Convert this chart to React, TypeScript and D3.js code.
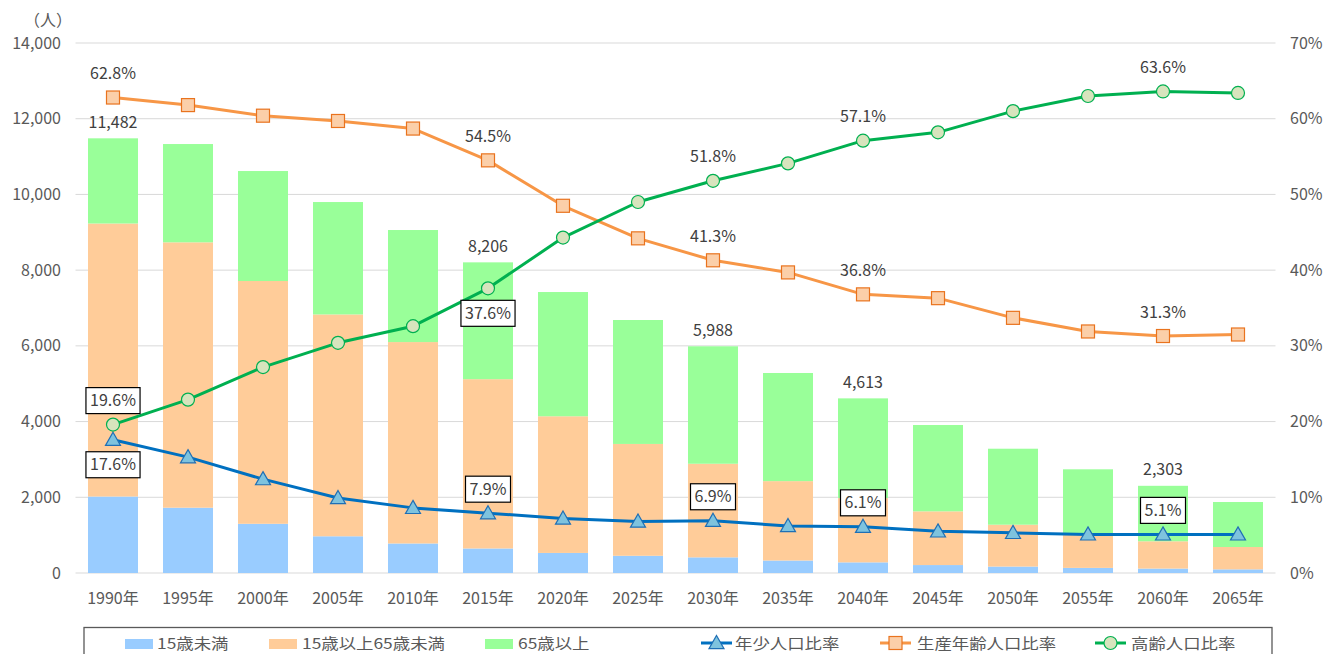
import React from "react";
import * as d3 from "d3";

const years = ["1990年","1995年","2000年","2005年","2010年","2015年","2020年","2025年","2030年","2035年","2040年","2045年","2050年","2055年","2060年","2065年"];
const under15 = [2020,1725,1300,970,780,648,530,455,413,330,281,210,170,135,117,96];
const age15to64 = [7212,7010,6413,5860,5320,4472,3610,2954,2473,2097,1698,1419,1106,900,721,591];
const over65 = [2250,2596,2905,2969,2960,3086,3282,3274,3102,2856,2634,2280,2007,1704,1465,1188];
const totals = [11482,11331,10618,9799,9060,8206,7422,6683,5988,5283,4613,3909,3283,2739,2303,1875];
const youngRatio = [17.6,15.3,12.4,9.9,8.6,7.9,7.2,6.8,6.9,6.2,6.1,5.5,5.3,5.1,5.1,5.1];
const workingRatio = [62.8,61.8,60.4,59.7,58.7,54.5,48.5,44.2,41.3,39.7,36.8,36.3,33.7,31.9,31.3,31.5];
const elderlyRatio = [19.6,22.9,27.2,30.4,32.6,37.6,44.3,49.0,51.8,54.1,57.1,58.2,61.0,63.0,63.6,63.4];
const leftTicks = [0,2000,4000,6000,8000,10000,12000,14000];
const rightTicks = [0,10,20,30,40,50,60,70];
const totalLabelIdx = [0,5,8,10,14];

const W = 1325, H = 654;
const M = { left: 75.5, right: 1275.5, top: 43, bottom: 573 };
const FONT = "'Noto Sans CJK JP', 'Noto Sans', sans-serif";
const TXT = "#404040";

const barColors = ["#99CCFF", "#FFCC99", "#99FF99"];
const lineSpecs = [
  { key: "young", data: youngRatio, stroke: "#0070C0", fill: "#7EC3DE", mstroke: "#1F6FB5", marker: "tri" },
  { key: "working", data: workingRatio, stroke: "#F79646", fill: "#FBCFA9", mstroke: "#E9731E", marker: "sq" },
  { key: "elderly", data: elderlyRatio, stroke: "#00B050", fill: "#D7E4BD", mstroke: "#00B050", marker: "circ" },
];

// label annotations: series, index, placement, boxed
const ratioLabels = [
  { s: "working", i: 0, pos: "above", box: false },
  { s: "working", i: 5, pos: "above", box: false },
  { s: "working", i: 8, pos: "above", box: false },
  { s: "working", i: 10, pos: "above", box: false },
  { s: "working", i: 14, pos: "above", box: false },
  { s: "elderly", i: 0, pos: "above", box: true },
  { s: "elderly", i: 5, pos: "below", box: true },
  { s: "elderly", i: 8, pos: "above", box: false },
  { s: "elderly", i: 10, pos: "above", box: false },
  { s: "elderly", i: 14, pos: "above", box: false },
  { s: "young", i: 0, pos: "below", box: true },
  { s: "young", i: 5, pos: "above", box: true },
  { s: "young", i: 8, pos: "above", box: true },
  { s: "young", i: 10, pos: "above", box: true },
  { s: "young", i: 14, pos: "above", box: true },
];

function textWidth(t: string) {
  let w = 0;
  for (const c of t) {
    if (c === ".") w += 4.3;
    else if (c === "%") w += 13.5;
    else if (c === ",") w += 4.3;
    else w += 9.1;
  }
  return w;
}

function Marker({ type, x, y, fill, stroke }: any) {
  if (type === "tri") {
    const s = 7.5;
    return <path d={`M${x},${y - s} L${x + s},${y + s * 0.75} L${x - s},${y + s * 0.75} Z`} fill={fill} stroke={stroke} strokeWidth={1.2} />;
  }
  if (type === "sq") {
    return <rect x={x - 6.5} y={y - 6.5} width={13} height={13} fill={fill} stroke={stroke} strokeWidth={1.2} />;
  }
  return <circle cx={x} cy={y} r={6.5} fill={fill} stroke={stroke} strokeWidth={1.2} />;
}

export default function App() {
  const x = d3.scaleBand<string>().domain(years).range([M.left, M.right]).paddingInner(1 / 3).paddingOuter(1 / 6);
  const yL = d3.scaleLinear().domain([0, 14000]).range([M.bottom, M.top]);
  const yR = d3.scaleLinear().domain([0, 70]).range([M.bottom, M.top]);
  const cx = (i: number) => (x(years[i]) as number) + x.bandwidth() / 2;

  const stackInput = years.map((y, i) => ({ y, a: under15[i], b: age15to64[i], c: over65[i] }));
  const stack = d3.stack<any>().keys(["a", "b", "c"])(stackInput);

  const line = d3.line<number>().x((_, i) => cx(i)).y((d) => yR(d));
  const fmt = d3.format(",");

  const legendBars = [
    { label: "15歳未満", color: barColors[0], x: 125, tx: 157 },
    { label: "15歳以上65歳未満", color: barColors[1], x: 269, tx: 302 },
    { label: "65歳以上", color: barColors[2], x: 485, tx: 518 },
  ];
  const legendLines = [
    { label: "年少人口比率", spec: lineSpecs[0], x: 701, tx: 735 },
    { label: "生産年齢人口比率", spec: lineSpecs[1], x: 880, tx: 917 },
    { label: "高齢人口比率", spec: lineSpecs[2], x: 1095, tx: 1131 },
  ];

  return (
    <svg width={W} height={H} style={{ position: "absolute", left: 0, top: 0, background: "#fff" }} fontFamily={FONT}>
      {/* gridlines */}
      {leftTicks.map((t) => (
        <line key={t} x1={M.left} x2={M.right} y1={yL(t)} y2={yL(t)} stroke="#D9D9D9" strokeWidth={1} />
      ))}
      {/* left ticks */}
      {leftTicks.map((t) => (
        <text key={t} x={61} y={yL(t)} dy="0.35em" textAnchor="end" fontSize={16} fill="#595959">{fmt(t)}</text>
      ))}
      {/* right ticks */}
      {rightTicks.map((t) => (
        <text key={t} x={1290} y={yR(t)} dy="0.35em" textAnchor="start" fontSize={16} fill="#595959">{t}%</text>
      ))}
      <text x={24} y={20} dy="0.35em" fontSize={16} fill="#595959">（人）</text>
      {/* bars */}
      {stack.map((layer, li) => (
        <g key={li} fill={barColors[li]}>
          {layer.map((d, i) => (
            <rect key={i} x={x(years[i])} y={yL(d[1])} width={x.bandwidth()} height={yL(d[0]) - yL(d[1])} />
          ))}
        </g>
      ))}
      {/* x labels */}
      {years.map((y, i) => (
        <text key={y} x={cx(i)} y={598} dy="0.35em" textAnchor="middle" fontSize={16} fill="#595959">{y}</text>
      ))}
      {/* total labels */}
      {totalLabelIdx.map((i) => (
        <text key={i} x={cx(i)} y={yL(totals[i]) - 16} dy="0.35em" textAnchor="middle" fontSize={16} fill={TXT}>{fmt(totals[i])}</text>
      ))}
      {/* lines */}
      {lineSpecs.map((s) => (
        <g key={s.key}>
          <path d={line(s.data) as string} fill="none" stroke={s.stroke} strokeWidth={3} strokeLinejoin="round" />
          {s.data.map((v, i) => (
            <Marker key={i} type={s.marker} x={cx(i)} y={yR(v)} fill={s.fill} stroke={s.mstroke} />
          ))}
        </g>
      ))}
      {/* ratio labels */}
      {ratioLabels.map((l, k) => {
        const spec = lineSpecs.find((s) => s.key === l.s)!;
        const v = spec.data[l.i];
        const px = cx(l.i);
        const py = yR(v) + (l.pos === "above" ? -24 : 25);
        const t = v.toFixed(1) + "%";
        const w = textWidth(t) + 9;
        return (
          <g key={k}>
            {l.box && <rect x={px - w / 2} y={py - 13} width={w} height={26} fill="#fff" stroke="#000" strokeWidth={1.2} />}
            <text x={px} y={py} dy="0.35em" textAnchor="middle" fontSize={16} fill={TXT}>{t}</text>
          </g>
        );
      })}
      {/* legend */}
      <rect x={84} y={627.5} width={1188} height={40} fill="#fff" stroke="#595959" strokeWidth={1.3} />
      {legendBars.map((l) => (
        <g key={l.label}>
          <rect x={l.x} y={639} width={28} height={10} fill={l.color} />
          <text transform={`translate(${l.tx},644) scale(1.16,1)`} dy="0.35em" fontSize={15} fill="#595959">{l.label}</text>
        </g>
      ))}
      {legendLines.map((l) => (
        <g key={l.label}>
          <line x1={l.x} x2={l.x + 31} y1={643} y2={643} stroke={l.spec.stroke} strokeWidth={3} />
          <Marker type={l.spec.marker} x={l.x + 15.5} y={643} fill={l.spec.fill} stroke={l.spec.mstroke} />
          <text transform={`translate(${l.tx},644) scale(1.16,1)`} dy="0.35em" fontSize={15} fill="#595959">{l.label}</text>
        </g>
      ))}
    </svg>
  );
}
